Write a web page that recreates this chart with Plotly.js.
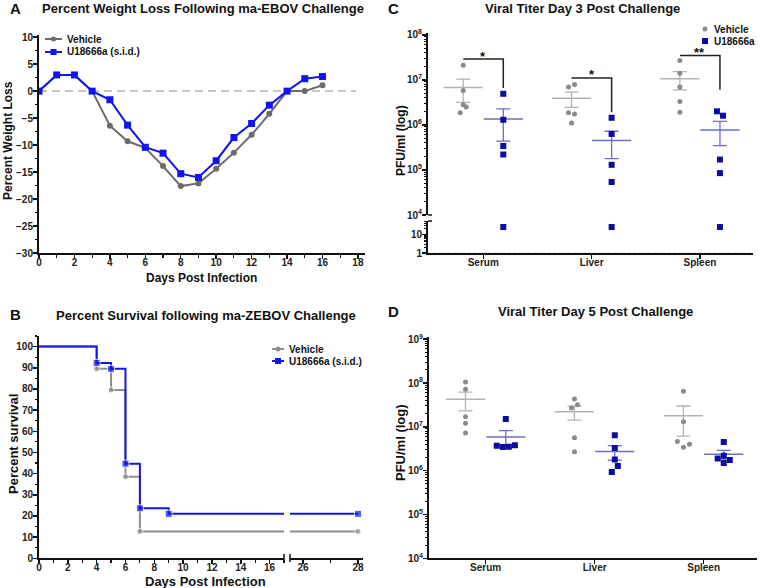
<!DOCTYPE html>
<html>
<head>
<meta charset="utf-8">
<script src="https://cdn.plot.ly/plotly-3.0.1.min.js"></script>
<style>
  html, body { margin: 0; padding: 0; background: #fff; }
  #fig { width: 760px; height: 588px; }
</style>
</head>
<body>
<div id="fig"></div>
<script>
// A: percent weight loss
const daysA = [0, 1, 2, 3, 4, 5, 6, 7, 8, 9, 10, 11, 12, 13, 14, 15, 16];
const weightVehicle = [0, 3, 3, 0, -6.4, -9.3, -10.5, -13.9, -17.6, -17.1, -14.4, -11.4, -8.1, -4.2, 0, 0, 1.1];
const weightU18 = [0, 3, 3, 0, -1.6, -6.3, -10.4, -11.5, -15.3, -16.0, -12.9, -8.6, -6.0, -2.6, 0, 2.3, 2.7];

// B: survival (step points)
const survDaysVehicle = [0, 4, 5, 6, 7, 28];
const survVehicle = [100, 89.5, 79.5, 38.5, 12.7, 12.7];
const survDaysU18 = [0, 4, 5, 6, 7, 9, 28];
const survU18 = [100, 92.3, 89.5, 44.7, 23.6, 21.0, 21.0];

// C / D: viral titers, PFU/ml, 5 animals per group
const categories = ['Serum', 'Liver', 'Spleen'];
const day3Vehicle = [[2.1e7, 5.8e6, 2.8e6, 2.5e6, 1.85e6], [6.9e6, 7.9e6, 1.85e6, 1.75e6, 1.1e6], [2.7e7, 1.4e7, 6.9e6, 3.3e6, 1.9e6]];
const day3U18 = [[4.9e6, 1.3e6, 3.4e5, 2.2e5, 25], [1.44e6, 6.3e5, 1.3e5, 5.4e4, 25], [2.0e6, 1.6e6, 1.7e5, 8.5e4, 25]];
const day5Vehicle = [[1.05e8, 7.2e7, 1.7e7, 1.2e7, 7.2e6], [4.3e7, 2.7e7, 3.2e7, 5.6e6, 2.7e6], [6.5e7, 1.3e7, 4.6e6, 3.4e6, 4.0e6]];
const day5U18 = [[1.5e7, 3.7e6, 3.45e6, 3.5e6, 3.8e6], [6.4e6, 3.3e6, 1.8e6, 1.27e6, 9.3e5], [4.5e6, 2.2e6, 1.9e6, 1.75e6, 1.5e6]];
const sigLabels = ['*', '*', '**'];

// horizontal scatter offsets of the dots (px)
const jit3Veh = [[0, 0, 0, 3, -3], [-3, 3, -3, 3, 0], [0, 0, 0, 0, 0]];
const jit3U18 = [[0, 0, 0, 0, 0], [0, 0, 0, 0, 0], [-3, 3, 0, 0, 0]];
const jit5Veh = [[0, 0, 0, 0, 0], [0, -3, 3, 0, 0], [0, 0, -6, 0, 6]];
const jit5U18 = [[0, -9, -3, 3, 9], [0, 0, 0, 3, -3], [0, 0, -6, 6, 0]];

const FONT = 'Liberation Sans, Arial, sans-serif';
const W = 760, H = 588;
const px = (p) => p / W;
const py = (p) => 1 - p / H;

const GRAY_A = '#6b6b6b', BLUE_A = '#1212f2';
const GRAY_B = '#8e8e8e', BLUE_B = '#1515e6';
const GRAY_DOT = '#8a8a8a', BLUE_DOT = '#0c0c9e';
const GRAY_BAR = '#b3b3b3', BLUE_BAR = '#6d6dcc';

const axBase = {
  showline: true, linecolor: '#111', linewidth: 2,
  ticks: 'outside', ticklen: 4, tickwidth: 1.5, tickcolor: '#111', ticklabelstandoff: -2,
  showgrid: false, zeroline: false, fixedrange: true,
  tickfont: { family: FONT, size: 10, color: '#222', weight: 'bold' }
};
const xBase = { ...axBase, ticklabelstandoff: -5 };
const minorLin = (d) => ({ dtick: d, ticks: 'outside', ticklen: 2.5, tickwidth: 1.2, tickcolor: '#111' });

function meanSem(v) {
  const n = v.length;
  const m = v.reduce((a, b) => a + b, 0) / n;
  const sd = Math.sqrt(v.reduce((a, b) => a + (b - m) ** 2, 0) / (n - 1));
  return [m, sd / Math.sqrt(n)];
}

const traces = [];

// ---- A
traces.push({
  type: 'scatter', mode: 'lines+markers', name: 'Vehicle', x: daysA, y: weightVehicle,
  line: { color: GRAY_A, width: 2 }, marker: { color: GRAY_A, size: 6, symbol: 'circle' },
  xaxis: 'x', yaxis: 'y'
});
traces.push({
  type: 'scatter', mode: 'lines+markers', name: 'U18666a (s.i.d.)', x: daysA, y: weightU18,
  line: { color: BLUE_A, width: 2 }, marker: { color: BLUE_A, size: 7, symbol: 'square' },
  xaxis: 'x', yaxis: 'y'
});

// ---- B (two x segments share y2)
const sz = (arr, s) => arr.map((_, i) => (i === 0 ? 0 : s));
['x2', 'x3'].forEach((xa) => {
  traces.push({
    type: 'scatter', mode: 'lines+markers', name: 'Vehicle', x: survDaysVehicle, y: survVehicle,
    line: { color: GRAY_B, width: 2, shape: 'hv' }, marker: { color: GRAY_B, size: sz(survVehicle, 6) },
    xaxis: xa, yaxis: 'y2'
  });
  traces.push({
    type: 'scatter', mode: 'lines+markers', name: 'U18666a (s.i.d.)', x: survDaysU18, y: survU18,
    line: { color: BLUE_B, width: 2, shape: 'hv' }, marker: { color: BLUE_B, size: sz(survU18, 7), symbol: 'square' },
    xaxis: xa, yaxis: 'y2'
  });
});

// ---- C / D dot plots
function titerTraces(groups, jit, side, color, barColor, symbol, size, xa, ya, name, withBar) {
  const out = [];
  if (withBar) {
    const stats = groups.map(meanSem);
    out.push({
      type: 'scatter', mode: 'markers', x: categories.map((_, i) => i + 1 + side), y: stats.map((s) => s[0]),
      marker: { symbol: 'line-ew', size: 28, line: { color: barColor, width: 1.5 } },
      error_y: { type: 'data', array: stats.map((s) => s[1]), color: barColor, thickness: 1.3, width: 7 },
      xaxis: xa, yaxis: ya
    });
  }
  const x = [], y = [];
  groups.forEach((g, i) => g.forEach((v, j) => {
    x.push(i + 1 + side + jit[i][j] / 108);
    y.push(v);
  }));
  out.push({ type: 'scatter', mode: 'markers', name, x, y, marker: { color, size, symbol }, xaxis: xa, yaxis: ya });
  return out;
}

// C upper (x5,y5) and lower (x4,y4)
traces.push(...titerTraces(day3Vehicle, jit3Veh, -0.185, GRAY_DOT, GRAY_BAR, 'circle', 5, 'x5', 'y5', 'Vehicle', true));
traces.push(...titerTraces(day3U18, jit3U18, 0.185, BLUE_DOT, BLUE_BAR, 'square', 6, 'x5', 'y5', 'U18666a', true));
traces.push(...titerTraces(day3U18, jit3U18, 0.185, BLUE_DOT, BLUE_BAR, 'square', 6, 'x4', 'y4', 'U18666a', false));

// significance brackets
const bracketTop = [2.9e7, 1.1e7, 3.45e7];
const bracketDrop = [6.6e6, 1.9e6, 6.0e6];
categories.forEach((c, i) => {
  traces.push({
    type: 'scatter', mode: 'lines', x: [i + 1 - 0.185, i + 1 + 0.185, i + 1 + 0.185],
    y: [bracketTop[i], bracketTop[i], bracketDrop[i]],
    line: { color: '#222', width: 1.5 }, xaxis: 'x5', yaxis: 'y5'
  });
});

// D
traces.push(...titerTraces(day5Vehicle, jit5Veh, -0.185, GRAY_DOT, GRAY_BAR, 'circle', 5, 'x6', 'y6', 'Vehicle', true));
traces.push(...titerTraces(day5U18, jit5U18, 0.185, BLUE_DOT, BLUE_BAR, 'square', 6, 'x6', 'y6', 'U18666a', true));

traces.forEach((t) => { t.showlegend = false; t.hoverinfo = 'skip'; });

const pow = (a, b) => { const v = [], t = []; for (let e = a; e <= b; e++) { v.push(10 ** e); t.push('10<sup>' + e + '</sup>'); } return [v, t]; };
const [c5v, c5t] = pow(4, 8);
const [d6v, d6t] = pow(4, 9);
const minorLog = { ticks: 'outside', ticklen: 2.5, tickwidth: 1, tickcolor: '#111', dtick: 'D1' };
const logTickFont = { family: FONT, size: 10, color: '#222', weight: 'bold' };
const catTickFont = { family: FONT, size: 10, color: '#222', weight: 'bold' };

const txt = (text, x, y, size, extra) => Object.assign({
  text, x: px(x), y: py(y), xref: 'paper', yref: 'paper', showarrow: false,
  font: { family: FONT, size, color: '#111', weight: 'bold' }, xanchor: 'center', yanchor: 'middle'
}, extra || {});

const annotations = [
  txt('A', 8, 8, 15, { xanchor: 'left' }),
  txt('Percent Weight Loss Following ma-EBOV Challenge', 203, 8, 13),
  txt('B', 8, 314, 15, { xanchor: 'left' }),
  txt('Percent Survival following ma-ZEBOV Challenge', 206, 315, 13),
  txt('C', 386, 8, 15, { xanchor: 'left' }),
  txt('Viral Titer Day 3 Post Challenge', 582, 8, 13),
  txt('D', 386, 311, 15, { xanchor: 'left' }),
  txt('Viral Titer Day 5 Post Challenge', 595, 311, 13),
  txt('Percent Weight Loss', 8, 141, 12, { textangle: -90 }),
  txt('Days Post Infection', 201, 278, 12),
  txt('Percent survival', 14, 444, 13, { textangle: -90 }),
  txt('Days Post Infection', 205, 581, 13),
  txt('PFU/ml (log)', 401, 141, 12, { textangle: -90 }),
  txt('PFU/ml (log)', 400, 443, 13, { textangle: -90 })
];
categories.forEach((c, i) => {
  annotations.push({
    text: sigLabels[i], x: i + 1, y: Math.log10(bracketTop[i]), xref: 'x5', yref: 'y5',
    showarrow: false, yanchor: 'middle', yshift: 3,
    font: { family: FONT, size: 13, color: '#111', weight: 'bold' }
  });
});

const shapes = [
  { type: 'line', xref: 'x', yref: 'y', x0: 0, x1: 17.9, y0: 0, y1: 0, layer: 'below',
    line: { color: '#b5b5b5', width: 1.5, dash: '8px,5px' } },
  { type: 'line', xref: 'x4 domain', yref: 'y4', x0: 0, x1: 1, y0: 0.95, y1: 0.95,
    line: { color: '#111', width: 1, dash: '3px,2px' } },
  // axis break marks
  { type: 'line', xref: 'paper', yref: 'paper', x0: px(284), x1: px(284), y0: py(554), y1: py(562), line: { color: '#111', width: 1.5 } },
  { type: 'line', xref: 'paper', yref: 'paper', x0: px(290), x1: px(290), y0: py(554), y1: py(562), line: { color: '#111', width: 1.5 } },
  { type: 'line', xref: 'paper', yref: 'paper', x0: px(428), x1: px(432), y0: py(215), y1: py(215), line: { color: '#111', width: 1.5 } },
  { type: 'line', xref: 'paper', yref: 'paper', x0: px(428), x1: px(432), y0: py(221), y1: py(221), line: { color: '#111', width: 1.5 } }
];

// compact legends (Plotly's own legend rows are too tall for this figure)
function legendRow(x0, y, lineLen, color, symbol, msize, label) {
  if (lineLen > 0) {
    shapes.push({ type: 'line', xref: 'paper', yref: 'paper', x0: px(x0), x1: px(x0 + lineLen), y0: py(y), y1: py(y), line: { color, width: 2 } });
  }
  const cx = x0 + lineLen / 2, h = msize / 2;
  shapes.push({ type: symbol === 'square' ? 'rect' : 'circle', xref: 'paper', yref: 'paper',
    x0: px(cx - h), x1: px(cx + h), y0: py(y + h), y1: py(y - h), fillcolor: color, line: { width: 0 } });
  annotations.push(txt(label, x0 + Math.max(lineLen, 0) + (lineLen > 0 ? 3 : 7), y, 10, { xanchor: 'left' }));
}
legendRow(45, 39, 17, GRAY_A, 'circle', 5, 'Vehicle');
legendRow(45, 52, 17, BLUE_A, 'square', 6, 'U18666a (s.i.d.)');
legendRow(272, 349, 12, GRAY_B, 'circle', 5, 'Vehicle');
legendRow(272, 361, 12, BLUE_B, 'square', 6, 'U18666a (s.i.d.)');
legendRow(705, 29, 0, GRAY_DOT, 'circle', 5, 'Vehicle');
legendRow(705, 41, 0, BLUE_DOT, 'square', 6, 'U18666a');

const layout = {
  width: W, height: H,
  margin: { l: 0, r: 0, t: 0, b: 0 },
  paper_bgcolor: '#fff', plot_bgcolor: 'rgba(0,0,0,0)',
  font: { family: FONT, color: '#222' },
  hovermode: false, showlegend: false,
  // A
  xaxis: { ...xBase, domain: [px(39), px(365)], range: [0, 18.4], dtick: 2, tick0: 0, minor: minorLin(1), anchor: 'y' },
  yaxis: { ...axBase, domain: [py(253), py(35)], range: [-30, 10.4], dtick: 5, minor: minorLin(2.5), anchor: 'x' },
  // B
  xaxis2: { ...xBase, domain: [px(39), px(284)], range: [0, 17], dtick: 2, tick0: 0, minor: minorLin(1), anchor: 'y2' },
  xaxis3: { ...xBase, domain: [px(290), px(363)], range: [25.53, 28.18], dtick: 2, tick0: 0, minor: minorLin(1), anchor: 'y2' },
  yaxis2: { ...axBase, domain: [py(558.3), py(336)], range: [0, 105], dtick: 10, minor: minorLin(5), anchor: 'x2' },
  // C
  xaxis4: { ...xBase, domain: [px(428), px(753)], range: [0.49, 3.49], tickmode: 'array', tickvals: [1, 2, 3], ticktext: categories, tickfont: catTickFont, anchor: 'y4' },
  yaxis4: { ...axBase, type: 'log', domain: [py(253), py(221)], range: [0, 1.72], tickmode: 'array', tickvals: [1, 10], ticktext: ['1', '10'], tickfont: logTickFont, minor: minorLog, anchor: 'x4' },
  xaxis5: { domain: [px(428), px(753)], range: [0.49, 3.49], visible: false, fixedrange: true, anchor: 'y5' },
  yaxis5: { ...axBase, type: 'log', domain: [py(215), py(33)], range: [4, 8.04], tickmode: 'array', tickvals: c5v, ticktext: c5t, tickfont: logTickFont, minor: minorLog, anchor: 'x5' },
  // D
  xaxis6: { ...xBase, domain: [px(429), px(757)], range: [0.48, 3.49], tickmode: 'array', tickvals: [1, 2, 3], ticktext: categories, tickfont: catTickFont, anchor: 'y6' },
  yaxis6: { ...axBase, type: 'log', domain: [py(558.3), py(337)], range: [4, 9.05], tickmode: 'array', tickvals: d6v, ticktext: d6t, tickfont: logTickFont, minor: minorLog, anchor: 'x6' },
  annotations, shapes
};

Plotly.newPlot('fig', traces, layout, { staticPlot: true, displayModeBar: false });
</script>
</body>
</html>
